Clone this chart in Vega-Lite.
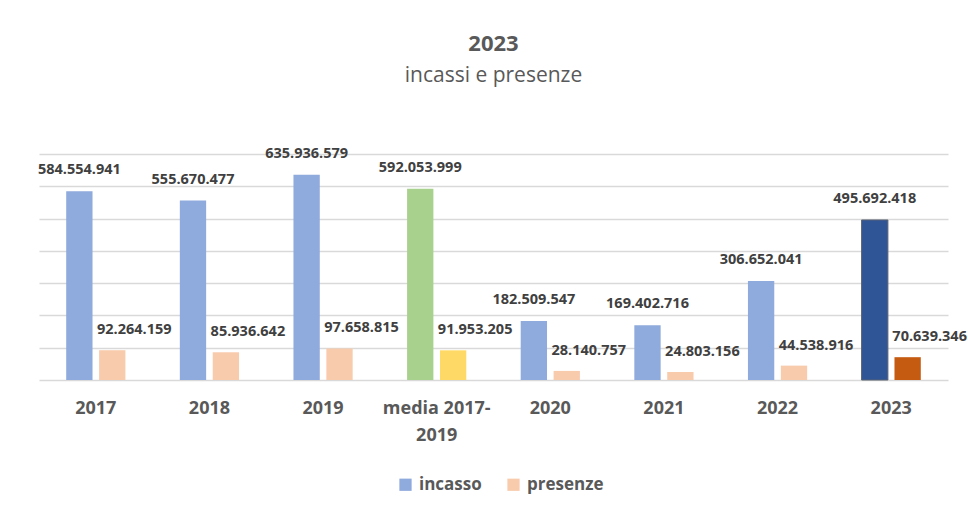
{
  "$schema": "https://vega.github.io/schema/vega-lite/v6.json",
  "width": 909,
  "height": 226,
  "autosize": {"type": "none"},
  "padding": {"left": 39, "top": 154, "right": 20, "bottom": 140},
  "background": "white",
  "title": {
    "text": "2023",
    "subtitle": "incassi e presenze",
    "fontSize": 22,
    "fontWeight": "bold",
    "subtitleFontSize": 21,
    "subtitleFontWeight": "normal",
    "color": "#595959",
    "subtitleColor": "#595959",
    "anchor": "middle",
    "frame": "group",
    "offset": 59,
    "subtitlePadding": 9
  },
  "data": {
    "values": [
      {"anno": "2017", "serie": "incasso", "valore": 584554941},
      {"anno": "2017", "serie": "presenze", "valore": 92264159},
      {"anno": "2018", "serie": "incasso", "valore": 555670477},
      {"anno": "2018", "serie": "presenze", "valore": 85936642},
      {"anno": "2019", "serie": "incasso", "valore": 635936579},
      {"anno": "2019", "serie": "presenze", "valore": 97658815},
      {"anno": "media 2017-2019", "serie": "incasso", "valore": 592053999},
      {"anno": "media 2017-2019", "serie": "presenze", "valore": 91953205},
      {"anno": "2020", "serie": "incasso", "valore": 182509547},
      {"anno": "2020", "serie": "presenze", "valore": 28140757},
      {"anno": "2021", "serie": "incasso", "valore": 169402716},
      {"anno": "2021", "serie": "presenze", "valore": 24803156},
      {"anno": "2022", "serie": "incasso", "valore": 306652041},
      {"anno": "2022", "serie": "presenze", "valore": 44538916},
      {"anno": "2023", "serie": "incasso", "valore": 495692418},
      {"anno": "2023", "serie": "presenze", "valore": 70639346}
    ]
  },
  "encoding": {
    "x": {
      "field": "anno",
      "type": "nominal",
      "sort": null,
      "scale": {"paddingInner": 0.45, "paddingOuter": 0.225},
      "axis": {
        "title": null,
        "domain": false,
        "ticks": false,
        "labelAngle": 0,
        "labelFontSize": 18,
        "labelFontWeight": "bold",
        "labelColor": "#595959",
        "labelPadding": 19,
        "labelLineHeight": 27,
        "labelExpr": "datum.value == 'media 2017-2019' ? ['media 2017-', '2019'] : datum.value"
      }
    },
    "xOffset": {
      "field": "serie",
      "type": "nominal",
      "sort": ["incasso", "presenze"],
      "scale": {"paddingInner": 0.2, "paddingOuter": 0.05}
    },
    "y": {
      "field": "valore",
      "type": "quantitative",
      "scale": {"domain": [0, 700000000], "nice": false},
      "axis": {
        "title": null,
        "labels": false,
        "ticks": false,
        "domain": false,
        "values": [0, 100000000, 200000000, 300000000, 400000000, 500000000, 600000000, 700000000],
        "grid": true,
        "gridColor": "#D9D9D9",
        "gridWidth": 1.5
      }
    }
  },
  "layer": [
    {
      "mark": {"type": "bar"},
      "encoding": {
        "color": {
          "condition": [
            {"test": "datum.anno == 'media 2017-2019' && datum.serie == 'incasso'", "value": "#A9D18E"},
            {"test": "datum.anno == 'media 2017-2019' && datum.serie == 'presenze'", "value": "#FFD966"},
            {"test": "datum.anno == '2023' && datum.serie == 'incasso'", "value": "#2F5597"},
            {"test": "datum.anno == '2023' && datum.serie == 'presenze'", "value": "#C55A11"}
          ],
          "field": "serie",
          "type": "nominal",
          "scale": {"domain": ["incasso", "presenze"], "range": ["#8FAADC", "#F8CBAD"]},
          "legend": {
            "title": null,
            "orient": "none",
            "direction": "horizontal",
            "legendX": 358,
            "legendY": 322,
            "symbolType": "square",
            "symbolSize": 150,
            "symbolStrokeWidth": 0,
            "labelFontSize": 17,
            "labelFontWeight": "bold",
            "labelColor": "#595959",
            "labelOffset": 5,
            "columnPadding": 23
          }
        },
        "stroke": {
          "condition": {"test": "datum.anno == '2023' && datum.serie == 'incasso'", "value": "#5B6270"},
          "value": null
        }
      }
    },
    {
      "transform": [{"filter": "datum.serie == 'incasso'"}],
      "mark": {"type": "text", "dy": -21, "baseline": "middle", "fontSize": 14.5, "fontWeight": "bold", "color": "#404040"},
      "encoding": {
        "text": {"field": "valore", "type": "quantitative", "format": ",d"}
      }
    },
    {
      "transform": [{"filter": "datum.serie == 'presenze'"}],
      "mark": {"type": "text", "dy": -20, "dx": 22, "baseline": "middle", "fontSize": 14.5, "fontWeight": "bold", "color": "#404040"},
      "encoding": {
        "text": {"field": "valore", "type": "quantitative", "format": ",d"}
      }
    }
  ],
  "config": {
    "font": "Open Sans",
    "view": {"stroke": null},
    "locale": {
      "number": {"decimal": ",", "thousands": ".", "grouping": [3], "currency": ["€", ""]}
    }
  }
}
